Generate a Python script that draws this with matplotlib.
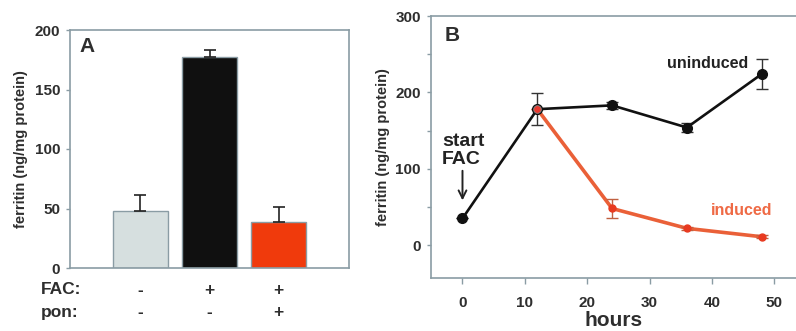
import matplotlib
matplotlib.use("Agg")
import matplotlib.pyplot as plt

plt.rcParams['font.family'] = ['Liberation Sans', 'DejaVu Sans']
plt.rcParams['font.weight'] = 'bold'

TXT = '#2e2e2e'
SPINE = '#8a9ca4'

# Panel A: ferritin after FAC / ponasterone treatment
bar_values = [48, 177, 39]
bar_errors = [13, 6, 12]
bar_colors = ['#d6dfdf', '#101010', '#f03a0c']
fac_signs = ['-', '+', '+']
pon_signs = ['-', '-', '+']
a_yticks = [0, 50, 100, 150, 200]

# Panel B: time course
hours_unind = [0, 12, 24, 36, 48]
ferr_unind = [35, 178, 183, 154, 224]
err_unind = [0, 21, 5, 6, 20]
hours_ind = [12, 24, 36, 48]
ferr_ind = [178, 48, 22, 11]
err_ind = [0, 13, 2, 2]
b_yticks = [0, 100, 200, 300]
b_xticks = [0, 10, 20, 30, 40, 50]

W, H = 796, 331
fig = plt.figure(figsize=(W / 100, H / 100), dpi=100)

def frac(x0, y0, x1, y1):
    return [x0 / W, 1 - y1 / H, (x1 - x0) / W, (y1 - y0) / H]

# ---------- Panel A ----------
axA = fig.add_axes(frac(70, 30, 349, 268))
xs = list(range(len(bar_values)))
axA.bar(xs, bar_values, width=0.8, color=bar_colors, edgecolor=SPINE, linewidth=1.0, zorder=2)
for x, v, e in zip(xs, bar_values, bar_errors):
    axA.errorbar([x], [v], yerr=[[0], [e]], fmt='none', ecolor='#222222',
                 elinewidth=1.2, capsize=4, capthick=1.2, zorder=3)
axA.set_xlim(-1.02, 3.02)
axA.set_ylim(0, 200)
axA.set_yticks(a_yticks)
axA.set_xticks([])
for s in axA.spines.values():
    s.set_color(SPINE)
    s.set_linewidth(1.2)
axA.tick_params(axis='y', direction='out', length=3, width=1, color=SPINE,
                labelsize=11, labelcolor=TXT, pad=4)
for lab in axA.get_yticklabels():
    lab.set_fontweight('bold')
axA.set_ylabel('ferritin (ng/mg protein)', fontsize=10.5, fontweight='bold', color=TXT, labelpad=5)
axA.text(0.035, 0.93, 'A', transform=axA.transAxes, fontsize=15, fontweight='bold',
         color=TXT, ha='left', va='center')

trA = axA.get_xaxis_transform()
yf = (268 - 290) / 238
yp = (268 - 312) / 238
fig.text(41 / W, 1 - 290 / H, 'FAC:', fontsize=12.5, fontweight='bold', color=TXT, ha='left', va='center')
fig.text(41 / W, 1 - 312 / H, 'pon:', fontsize=12.5, fontweight='bold', color=TXT, ha='left', va='center')
for x, f, p in zip(xs, fac_signs, pon_signs):
    axA.text(x, yf, f, transform=trA, fontsize=12.5, fontweight='bold', color=TXT,
             ha='center', va='center', clip_on=False)
    axA.text(x, yp, p, transform=trA, fontsize=12.5, fontweight='bold', color=TXT,
             ha='center', va='center', clip_on=False)

# ---------- Panel B ----------
axB = fig.add_axes(frac(430.7, 16, 796, 278))
axB.set_xlim(-5.1, 53.5)
axB.set_ylim(-43, 300)

red_line = '#ea6038'
axB.plot(hours_ind, ferr_ind, color=red_line, lw=2.6, zorder=2)
axB.errorbar(hours_ind, ferr_ind, yerr=err_ind, fmt='o', color='#e83a20', ms=5,
             ecolor='#c06040', elinewidth=1.0, capsize=4, zorder=3)
axB.errorbar(hours_unind, ferr_unind, yerr=err_unind, fmt='-o', color='#111111',
             lw=1.9, ms=7, ecolor='#333333', elinewidth=1.0, capsize=4, zorder=4)
# induced starting point sits on top of the uninduced curve
axB.plot([hours_ind[0]], [ferr_ind[0]], 'o', color='#e83a30', ms=5.5,
         mec='#888888', mew=0.6, zorder=5)

axB.set_yticks(b_yticks)
axB.set_yticks([50, 150, 250], minor=True)
axB.set_xticks(b_xticks)
for k in ('left', 'top', 'bottom'):
    axB.spines[k].set_color(SPINE)
    axB.spines[k].set_linewidth(1.2)
axB.spines['right'].set_visible(False)
axB.tick_params(axis='both', which='both', direction='out', color=SPINE, width=1)
axB.tick_params(axis='y', which='major', length=3, labelsize=11, labelcolor=TXT, pad=4)
axB.tick_params(axis='y', which='minor', length=3)
axB.tick_params(axis='x', which='major', length=4, labelsize=11, labelcolor=TXT, pad=9)
for lab in axB.get_xticklabels() + axB.get_yticklabels():
    lab.set_fontweight('bold')
axB.set_ylabel('ferritin (ng/mg protein)', fontsize=10.5, fontweight='bold', color=TXT, labelpad=4)
axB.set_xlabel('hours', fontsize=15, fontweight='bold', color=TXT, labelpad=1)

axB.text(-2.9, 275, 'B', fontsize=15, fontweight='bold', color=TXT, ha='left', va='center')
axB.text(45.8, 238, 'uninduced', fontsize=11.5, fontweight='bold', color='#222222',
         ha='right', va='center')
axB.text(44.8, 46, 'induced', fontsize=11.5, fontweight='bold', color='#ef6a45',
         ha='center', va='center')
axB.text(-3.3, 124, 'start\nFAC', fontsize=14, fontweight='bold', color='#222222',
         ha='left', va='center', linespacing=1.1)
axB.annotate('', xy=(0, 55), xytext=(0, 101),
             arrowprops=dict(arrowstyle='->', color='#222222', lw=1.4, mutation_scale=14))

fig.savefig('out.png', dpi=100, facecolor='white')
